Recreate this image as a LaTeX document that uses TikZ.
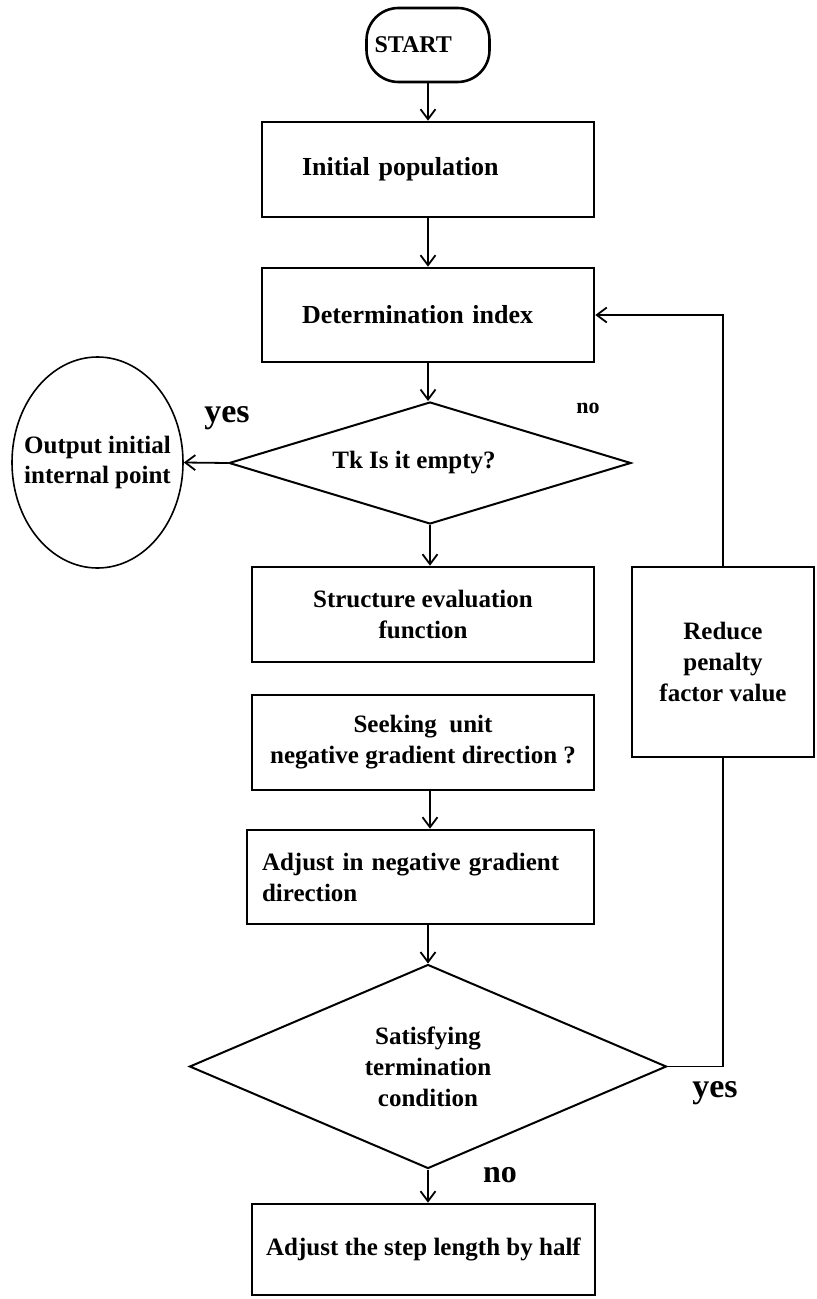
\documentclass[tikz,border=0pt]{standalone}
\usepackage{fontspec}
\setmainfont{Liberation Serif}
\usetikzlibrary{shapes.geometric, arrows.meta}
\tikzset{
	block/.style={draw, line width=1.3pt, font=\fontsize{12.5}{15.5}\selectfont\bfseries},
	decision/.style={draw, diamond, line width=1pt, inner sep=0pt, font=\fontsize{12.5}{15.5}\selectfont\bfseries},
	tag/.style={font=\bfseries},
	>={Straight Barb[length=5pt,width=7.5pt]}
}

\begin{document}
\begin{tikzpicture}[x=0.5pt,y=-0.5pt,line width=0.9pt]
\useasboundingbox (0,0) rectangle (817,1299);
\node (start) [block, rounded corners=16pt, minimum width=61.5pt, minimum height=37pt, text width=53.5pt, inner xsep=4pt, align=left, font=\fontsize{12}{14}\selectfont\bfseries] at (428,45) {START};
\node (init) [block, minimum width=166pt, minimum height=47.5pt, text width=126pt, inner xsep=20pt, align=left, font=\fontsize{13}{15.5}\selectfont\bfseries] at (428,169.5) {Initial population};
\node (det) [block, minimum width=166pt, minimum height=47pt, text width=126pt, inner xsep=20pt, align=left, font=\fontsize{13}{15.5}\selectfont\bfseries] at (428,315) {Determination index};
\node (tk) [decision, aspect=3.3, minimum width=201pt, minimum height=61pt] at (430,463) {\hspace*{-16pt}Tk Is it empty?};
\node (out) [draw, ellipse, line width=0.8pt, minimum width=85.5pt, minimum height=105.5pt, inner sep=0pt, font=\fontsize{12.5}{15}\selectfont\bfseries] at (97.5,462.5) {\makebox[40pt]{\begin{tabular}{@{}c@{}}Output initial\\internal point\end{tabular}}};
\node (struct) [block, minimum width=171pt, minimum height=47.5pt, align=center] at (423,614.5) {Structure evaluation\\function};
\node (seek) [block, minimum width=171pt, minimum height=47.5pt, align=center] at (423,742.5) {Seeking\ \ unit\\negative gradient direction ?};
\node (adj) [block, minimum width=173.5pt, minimum height=47pt, text width=158.5pt, inner xsep=7.5pt, align=left] at (420.5,877) {Adjust in negative gradient\\direction};
\node (sat) [decision, aspect=2.3, minimum width=238.5pt, minimum height=102pt, align=center] at (428,1066.5) {Satisfying\\termination\\condition};
\node (half) [block, minimum width=171.5pt, minimum height=45.5pt] at (423.5,1249.5) {Adjust the step length by half};
\node (reduce) [block, minimum width=91pt, minimum height=95pt, align=center] at (723,662) {Reduce\\penalty\\factor value};
% branch labels
\node (yesleft) [tag, font=\fontsize{17}{20}\selectfont\bfseries] at (227,418) {yes};
\node (notop) [tag, font=\fontsize{11}{13}\selectfont\bfseries] at (588,408) {no};
\node (yesright) [tag, font=\fontsize{17}{20}\selectfont\bfseries] at (715,1093) {yes};
\node (nobottom) [tag, font=\fontsize{16}{19}\selectfont\bfseries] at (500,1175) {no};
\draw[->] (start.south) -- (start.south |- init.north);
\draw[->] (init.south) -- (init.south |- det.north);
\draw[->] (det.south) -- (det.south |- tk.north);
\draw[->] (tk.west) -- (out.east);
\draw[->] (tk.south) -- (tk.south |- struct.north);
\draw[->] (seek.south -| tk.south) -- (tk.south |- adj.north);
\draw[->] (sat.north |- adj.south) -- (sat.north);
\draw[->] (sat.south) -- (sat.south |- half.north);
\draw (sat.east) -| (reduce.south);
\draw[->] (reduce.north) |- (det.east);
\end{tikzpicture}
\end{document}
